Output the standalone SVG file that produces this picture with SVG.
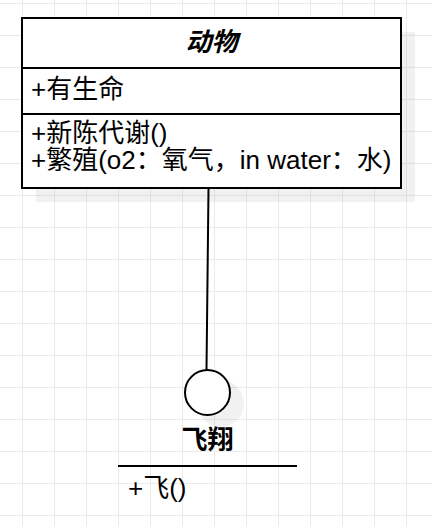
<svg xmlns="http://www.w3.org/2000/svg" width="432" height="526" viewBox="0 0 432 526">
  <defs>
    <pattern id="grid" x="22" y="3" width="32" height="32" patternUnits="userSpaceOnUse">
      <rect x="0" y="0" width="1" height="32" fill="#ebebeb"/>
      <rect x="0" y="0" width="32" height="1" fill="#ebebeb"/>
    </pattern>
    <style>
      .t { font-family: "Liberation Sans", "Noto Sans CJK SC", sans-serif; font-size: 26px; fill: #000; }
      .b { font-weight: bold; }
      .i { font-style: italic; }
      .shape { fill: #fff; stroke: #000; stroke-width: 2; }
      .shadow { fill: #000; fill-opacity: 0.055; }
      .ln { stroke: #000; stroke-width: 2; fill: none; }
    </style>
  </defs>
  <rect width="432" height="526" fill="#fff"/>
  <rect width="432" height="526" fill="url(#grid)"/>

  <g id="connectors">
    <line class="ln" x1="208.5" y1="189" x2="206.5" y2="370" stroke-width="1.5"/>
  </g>

  <g id="class-animal">
    <rect class="shadow" x="36" y="32" width="379" height="170"/>
    <rect class="shape" x="22" y="18" width="379" height="170"/>
    <line class="ln" x1="22" y1="68" x2="401" y2="68"/>
    <line class="ln" x1="22" y1="114" x2="401" y2="114"/>
    <text class="t b i" x="211.5" y="51" text-anchor="middle">动物</text>
    <text class="t" x="31" y="98">+有生命</text>
    <text class="t" x="31" y="142">+新陈代谢()</text>
    <text class="t" x="31" y="169">+繁殖(o2：氧气，in water：水)</text>
  </g>

  <g id="interface-fly">
    <circle class="shadow" cx="220.5" cy="403.5" r="23.5"/>
    <circle class="shape" cx="207.5" cy="392.5" r="22.5"/>
    <text class="t b" x="207.5" y="449" text-anchor="middle">飞翔</text>
    <line class="ln" x1="118" y1="466" x2="297" y2="466"/>
    <text class="t" x="128" y="497">+飞()</text>
  </g>
</svg>
